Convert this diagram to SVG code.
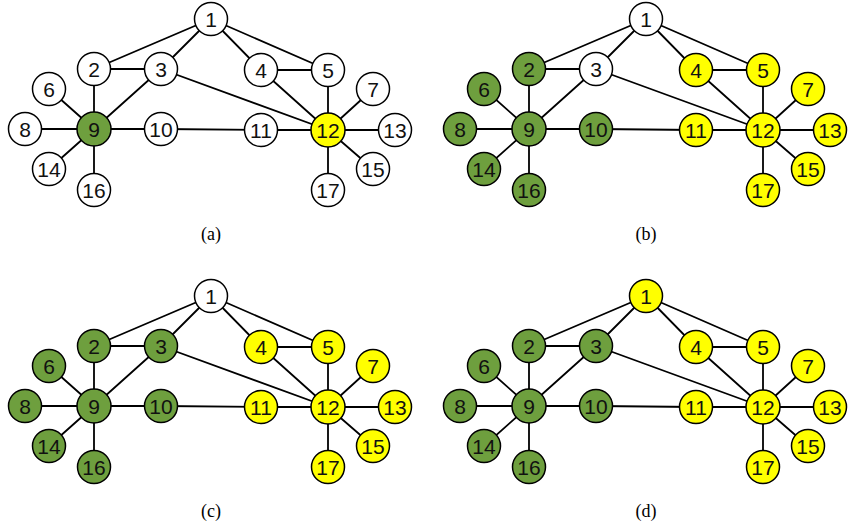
<svg xmlns="http://www.w3.org/2000/svg" width="857" height="528" viewBox="0 0 857 528">
<style>
.e{stroke:#000;stroke-width:1.8;fill:none}
circle{stroke:#000;stroke-width:1.5}
.w{fill:#fff}.g{fill:#6e9f3e}.y{fill:#ffff00}
.t{font-family:"Liberation Sans","Open Sans",sans-serif;font-size:21px;text-anchor:middle;fill:#111}
.cap{font-family:"Liberation Serif",serif;font-size:18px;text-anchor:middle;fill:#000}
</style>
<rect width="857" height="528" fill="#fff"/>
<defs>
<g id="edges">
<path class="e" d="M211 19L94 69M211 19L161 69M211 19L261 70M211 19L328 70M94 69L161 69M94 69L94 129M161 69L94 129M161 69L328 130M261 70L328 70M261 70L328 130M328 70L328 130M49 89L94 129M25 129L94 129M49 169L94 129M94 190L94 129M94 129L161 129M161 129L261 130M261 130L328 130M328 130L373 89M328 130L395 130M328 130L373 169M328 130L328 190"/>
</g>
</defs>
<g id="connectors">
<use href="#edges"/>
<use href="#edges" x="435"/>
<use href="#edges" y="277"/>
<use href="#edges" x="435" y="277"/>
</g>
<!-- Panel a -->
<g id="panel-a">
<g id="a1"><circle class="w" cx="211" cy="19" r="16.5"/><text class="t" x="211" y="26.5">1</text></g>
<g id="a2"><circle class="w" cx="94" cy="69" r="16.5"/><text class="t" x="94" y="76.5">2</text></g>
<g id="a3"><circle class="w" cx="161" cy="69" r="16.5"/><text class="t" x="161" y="76.5">3</text></g>
<g id="a4"><circle class="w" cx="261" cy="70" r="16.5"/><text class="t" x="261" y="77.5">4</text></g>
<g id="a5"><circle class="w" cx="328" cy="70" r="16.5"/><text class="t" x="328" y="77.5">5</text></g>
<g id="a6"><circle class="w" cx="49" cy="89" r="16.5"/><text class="t" x="49" y="96.5">6</text></g>
<g id="a7"><circle class="w" cx="373" cy="89" r="16.5"/><text class="t" x="373" y="96.5">7</text></g>
<g id="a8"><circle class="w" cx="25" cy="129" r="16.5"/><text class="t" x="25" y="136.5">8</text></g>
<g id="a9"><circle class="g" cx="94" cy="129" r="17"/><text class="t" x="94" y="136.5">9</text></g>
<g id="a10"><circle class="w" cx="161" cy="129" r="16.5"/><text class="t" x="161" y="136.5">10</text></g>
<g id="a11"><circle class="w" cx="261" cy="130" r="16.5"/><text class="t" x="261" y="137.5">11</text></g>
<g id="a12"><circle class="y" cx="328" cy="130" r="17"/><text class="t" x="328" y="137.5">12</text></g>
<g id="a13"><circle class="w" cx="395" cy="130" r="16.5"/><text class="t" x="395" y="137.5">13</text></g>
<g id="a14"><circle class="w" cx="49" cy="169" r="16.5"/><text class="t" x="49" y="176.5">14</text></g>
<g id="a15"><circle class="w" cx="373" cy="169" r="16.5"/><text class="t" x="373" y="176.5">15</text></g>
<g id="a16"><circle class="w" cx="94" cy="190" r="16.5"/><text class="t" x="94" y="197.5">16</text></g>
<g id="a17"><circle class="w" cx="328" cy="190" r="16.5"/><text class="t" x="328" y="197.5">17</text></g>
<text class="cap" x="211" y="240">(a)</text>
</g>
<!-- Panel b -->
<g id="panel-b" transform="translate(435,0)">
<g id="b1"><circle class="w" cx="211" cy="19" r="16.5"/><text class="t" x="211" y="26.5">1</text></g>
<g id="b2"><circle class="g" cx="94" cy="69" r="16.5"/><text class="t" x="94" y="76.5">2</text></g>
<g id="b3"><circle class="w" cx="161" cy="69" r="16.5"/><text class="t" x="161" y="76.5">3</text></g>
<g id="b4"><circle class="y" cx="261" cy="70" r="16.5"/><text class="t" x="261" y="77.5">4</text></g>
<g id="b5"><circle class="y" cx="328" cy="70" r="16.5"/><text class="t" x="328" y="77.5">5</text></g>
<g id="b6"><circle class="g" cx="49" cy="89" r="16.5"/><text class="t" x="49" y="96.5">6</text></g>
<g id="b7"><circle class="y" cx="373" cy="89" r="16.5"/><text class="t" x="373" y="96.5">7</text></g>
<g id="b8"><circle class="g" cx="25" cy="129" r="16.5"/><text class="t" x="25" y="136.5">8</text></g>
<g id="b9"><circle class="g" cx="94" cy="129" r="17"/><text class="t" x="94" y="136.5">9</text></g>
<g id="b10"><circle class="g" cx="161" cy="129" r="16.5"/><text class="t" x="161" y="136.5">10</text></g>
<g id="b11"><circle class="y" cx="261" cy="130" r="16.5"/><text class="t" x="261" y="137.5">11</text></g>
<g id="b12"><circle class="y" cx="328" cy="130" r="17"/><text class="t" x="328" y="137.5">12</text></g>
<g id="b13"><circle class="y" cx="395" cy="130" r="16.5"/><text class="t" x="395" y="137.5">13</text></g>
<g id="b14"><circle class="g" cx="49" cy="169" r="16.5"/><text class="t" x="49" y="176.5">14</text></g>
<g id="b15"><circle class="y" cx="373" cy="169" r="16.5"/><text class="t" x="373" y="176.5">15</text></g>
<g id="b16"><circle class="g" cx="94" cy="190" r="16.5"/><text class="t" x="94" y="197.5">16</text></g>
<g id="b17"><circle class="y" cx="328" cy="190" r="16.5"/><text class="t" x="328" y="197.5">17</text></g>
<text class="cap" x="211" y="240">(b)</text>
</g>
<!-- Panel c -->
<g id="panel-c" transform="translate(0,277)">
<g id="c1"><circle class="w" cx="211" cy="19" r="16.5"/><text class="t" x="211" y="26.5">1</text></g>
<g id="c2"><circle class="g" cx="94" cy="69" r="16.5"/><text class="t" x="94" y="76.5">2</text></g>
<g id="c3"><circle class="g" cx="161" cy="69" r="16.5"/><text class="t" x="161" y="76.5">3</text></g>
<g id="c4"><circle class="y" cx="261" cy="70" r="16.5"/><text class="t" x="261" y="77.5">4</text></g>
<g id="c5"><circle class="y" cx="328" cy="70" r="16.5"/><text class="t" x="328" y="77.5">5</text></g>
<g id="c6"><circle class="g" cx="49" cy="89" r="16.5"/><text class="t" x="49" y="96.5">6</text></g>
<g id="c7"><circle class="y" cx="373" cy="89" r="16.5"/><text class="t" x="373" y="96.5">7</text></g>
<g id="c8"><circle class="g" cx="25" cy="129" r="16.5"/><text class="t" x="25" y="136.5">8</text></g>
<g id="c9"><circle class="g" cx="94" cy="129" r="17"/><text class="t" x="94" y="136.5">9</text></g>
<g id="c10"><circle class="g" cx="161" cy="129" r="16.5"/><text class="t" x="161" y="136.5">10</text></g>
<g id="c11"><circle class="y" cx="261" cy="130" r="16.5"/><text class="t" x="261" y="137.5">11</text></g>
<g id="c12"><circle class="y" cx="328" cy="130" r="17"/><text class="t" x="328" y="137.5">12</text></g>
<g id="c13"><circle class="y" cx="395" cy="130" r="16.5"/><text class="t" x="395" y="137.5">13</text></g>
<g id="c14"><circle class="g" cx="49" cy="169" r="16.5"/><text class="t" x="49" y="176.5">14</text></g>
<g id="c15"><circle class="y" cx="373" cy="169" r="16.5"/><text class="t" x="373" y="176.5">15</text></g>
<g id="c16"><circle class="g" cx="94" cy="190" r="16.5"/><text class="t" x="94" y="197.5">16</text></g>
<g id="c17"><circle class="y" cx="328" cy="190" r="16.5"/><text class="t" x="328" y="197.5">17</text></g>
<text class="cap" x="211" y="240">(c)</text>
</g>
<!-- Panel d -->
<g id="panel-d" transform="translate(435,277)">
<g id="d1"><circle class="y" cx="211" cy="19" r="16.5"/><text class="t" x="211" y="26.5">1</text></g>
<g id="d2"><circle class="g" cx="94" cy="69" r="16.5"/><text class="t" x="94" y="76.5">2</text></g>
<g id="d3"><circle class="g" cx="161" cy="69" r="16.5"/><text class="t" x="161" y="76.5">3</text></g>
<g id="d4"><circle class="y" cx="261" cy="70" r="16.5"/><text class="t" x="261" y="77.5">4</text></g>
<g id="d5"><circle class="y" cx="328" cy="70" r="16.5"/><text class="t" x="328" y="77.5">5</text></g>
<g id="d6"><circle class="g" cx="49" cy="89" r="16.5"/><text class="t" x="49" y="96.5">6</text></g>
<g id="d7"><circle class="y" cx="373" cy="89" r="16.5"/><text class="t" x="373" y="96.5">7</text></g>
<g id="d8"><circle class="g" cx="25" cy="129" r="16.5"/><text class="t" x="25" y="136.5">8</text></g>
<g id="d9"><circle class="g" cx="94" cy="129" r="17"/><text class="t" x="94" y="136.5">9</text></g>
<g id="d10"><circle class="g" cx="161" cy="129" r="16.5"/><text class="t" x="161" y="136.5">10</text></g>
<g id="d11"><circle class="y" cx="261" cy="130" r="16.5"/><text class="t" x="261" y="137.5">11</text></g>
<g id="d12"><circle class="y" cx="328" cy="130" r="17"/><text class="t" x="328" y="137.5">12</text></g>
<g id="d13"><circle class="y" cx="395" cy="130" r="16.5"/><text class="t" x="395" y="137.5">13</text></g>
<g id="d14"><circle class="g" cx="49" cy="169" r="16.5"/><text class="t" x="49" y="176.5">14</text></g>
<g id="d15"><circle class="y" cx="373" cy="169" r="16.5"/><text class="t" x="373" y="176.5">15</text></g>
<g id="d16"><circle class="g" cx="94" cy="190" r="16.5"/><text class="t" x="94" y="197.5">16</text></g>
<g id="d17"><circle class="y" cx="328" cy="190" r="16.5"/><text class="t" x="328" y="197.5">17</text></g>
<text class="cap" x="211" y="240">(d)</text>
</g>
</svg>
